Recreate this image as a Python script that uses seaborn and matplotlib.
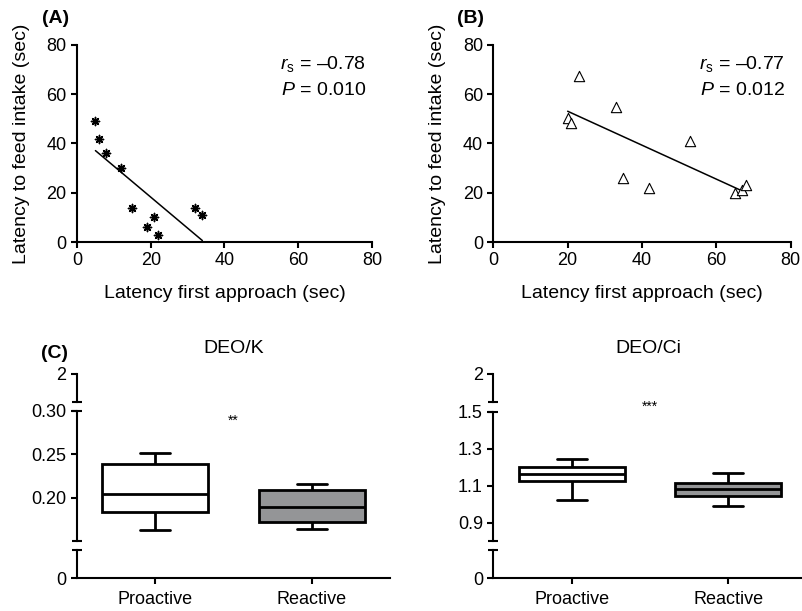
import numpy as np
import pandas as pd
import matplotlib.pyplot as plt
import seaborn as sns

sns.set_style("ticks")
plt.rcParams['font.family'] = ['Liberation Sans', 'DejaVu Sans']
plt.rcParams['mathtext.fontset'] = 'custom'
plt.rcParams['mathtext.rm'] = 'Liberation Sans'
plt.rcParams['mathtext.it'] = 'Liberation Sans:italic'
for k in ['text.color', 'axes.labelcolor', 'xtick.color', 'ytick.color', 'axes.edgecolor']:
    plt.rcParams[k] = 'black'

# (A) proactive fish
approach_a = [5, 6, 8, 12, 15, 19, 21, 22, 32, 34]
intake_a = [49, 42, 36, 30, 14, 6, 10, 3, 14, 11]
# (B) reactive fish
approach_b = [20, 21, 23, 33, 35, 42, 53, 65, 67, 68]
intake_b = [50.5, 48.5, 67.5, 55, 26, 22, 41, 20, 21, 23]

# (C) box summaries: whisker low, Q1, median, Q3, whisker high
groups = ["Proactive", "Reactive"]
deok_pro = [0.163, 0.1835, 0.204, 0.239, 0.251]
deok_rea = [0.164, 0.172, 0.189, 0.2085, 0.216]
deoci_pro = [1.022, 1.125, 1.163, 1.201, 1.246]
deoci_rea = [0.988, 1.042, 1.080, 1.116, 1.168]

LW = 1.5
FS_LAB = 14
FS_TICK = 13
GRAY = "#939598"

fig = plt.figure(figsize=(8.02, 6.11), dpi=100)


def style(ax):
    for s in ["left", "bottom"]:
        ax.spines[s].set_linewidth(LW)
    ax.tick_params(width=LW, length=4, labelsize=FS_TICK, direction="out")


def scatter_panel(rect, x, y, marker, s, rs, p):
    ax = fig.add_axes(rect)
    if marker == "tri":
        sns.scatterplot(x=x, y=y, marker="^", s=s, facecolor="white",
                        edgecolor="black", linewidth=0.8, ax=ax, zorder=3)
    else:
        sns.scatterplot(x=x, y=y, marker=(8, 2, 0), s=s, color="black",
                        edgecolor="black", linewidth=1.1, ax=ax, zorder=3)
    sns.regplot(x=x, y=y, scatter=False, ci=None, color="black",
                line_kws={"linewidth": 1.1}, ax=ax)
    ax.set_xlim(0, 80)
    ax.set_ylim(0, 80)
    ax.set_xticks([0, 20, 40, 60, 80])
    ax.set_yticks([0, 20, 40, 60, 80])
    sns.despine(ax=ax)
    style(ax)
    ax.set_xlabel("Latency first approach (sec)", fontsize=FS_LAB, labelpad=11)
    ax.set_ylabel("Latency to feed intake (sec)", fontsize=FS_LAB, labelpad=12)
    ax.text(0.98, 0.905, r"$\mathit{r}_{\mathrm{s}}$ = –" + rs, transform=ax.transAxes,
            ha="right", va="center", fontsize=FS_LAB)
    ax.text(0.98, 0.77, r"$\mathit{P}$ = " + p, transform=ax.transAxes,
            ha="right", va="center", fontsize=FS_LAB)
    return ax


scatter_panel([0.096, 0.6039, 0.3678, 0.3225], approach_a, intake_a, "star", 34, "0.78", "0.010")
scatter_panel([0.6151, 0.6039, 0.3708, 0.3225], approach_b, intake_b, "tri", 55, "0.77", "0.012")


def cap(ax, y):
    ax.plot([0], [y], marker="_", ms=7, mew=LW, color="black",
            transform=ax.transAxes, clip_on=False, zorder=5)


def box_panel(left, width, pro, rea, lim, ticks, fmt, title, tx, stars, sy, mid_h, xmax):
    df = pd.DataFrame({"group": [groups[0]] * len(pro) + [groups[1]] * len(rea),
                       "value": pro + rea})
    ax_top = fig.add_axes([left, 0.3426, width, 0.0453])
    ax_mid = fig.add_axes([left, 0.1146, width, mid_h])
    ax_bot = fig.add_axes([left, 0.0535, width, 0.0463])

    sns.boxplot(data=df, x="group", y="value", hue="group", palette=["white", GRAY],
                width=0.675, whis=np.inf, linecolor="black", linewidth=2,
                legend=False, ax=ax_mid)
    # narrow whisker caps
    for ln in ax_mid.lines[:]:
        xd = ln.get_xdata()
        if len(xd) == 2 and np.allclose(ln.get_ydata()[0], ln.get_ydata()[1]):
            w = xd[1] - xd[0]
            if abs(w) < 0.5:
                c = (xd[0] + xd[1]) / 2
                ln.set_xdata([c - 0.095, c + 0.095])
    ax_mid.set_ylim(*lim)
    ax_mid.set_yticks(ticks)
    ax_mid.set_yticklabels([fmt % t for t in ticks])
    ax_mid.set_xlabel("")
    ax_mid.set_ylabel("")

    ax_top.set_ylim(1.8, 2.0)
    ax_top.set_yticks([2])
    ax_top.set_yticklabels(["2"])
    ax_bot.set_ylim(0, 0.05)
    ax_bot.set_yticks([0])
    ax_bot.set_yticklabels(["0"])

    for ax in [ax_top, ax_mid, ax_bot]:
        ax.set_xlim(-0.5, xmax)
        ax.patch.set_alpha(0)
        for s in ["top", "right"]:
            ax.spines[s].set_visible(False)
        style(ax)
    for ax in [ax_top, ax_mid]:
        ax.spines["bottom"].set_visible(False)
        ax.set_xticks([])
    ax_bot.set_xticks([0, 1])
    ax_bot.set_xticklabels(groups)
    ax_bot.tick_params(axis="x", labelsize=FS_TICK, pad=5)

    cap(ax_top, 0)
    cap(ax_mid, 0)
    cap(ax_mid, 1)
    cap(ax_bot, 1)

    ax_mid.text(0.5, sy, stars, ha="center", va="center", fontsize=10, clip_on=False)
    fig.text(tx, 0.429, title, ha="center", va="center", fontsize=FS_LAB)


box_panel(0.096, 0.3903, deok_pro, deok_rea, (0.15, 0.30), [0.20, 0.25, 0.30], "%.2f",
          "DEO/K", 0.291, "**", 0.2885, 0.2128, 1.5)
box_panel(0.6151, 0.3849, deoci_pro, deoci_rea, (0.8, 1.5), [0.9, 1.1, 1.3, 1.5], "%.1f",
          "DEO/Ci", 0.808, "***", 1.525, 0.2116, 1.47)

fig.text(0.052, 0.970, "(A)", fontsize=FS_LAB, weight="bold", va="center")
fig.text(0.5695, 0.970, "(B)", fontsize=FS_LAB, weight="bold", va="center")
fig.text(0.0507, 0.4218, "(C)", fontsize=FS_LAB, weight="bold", va="center")

fig.savefig("out.png", dpi=100)
